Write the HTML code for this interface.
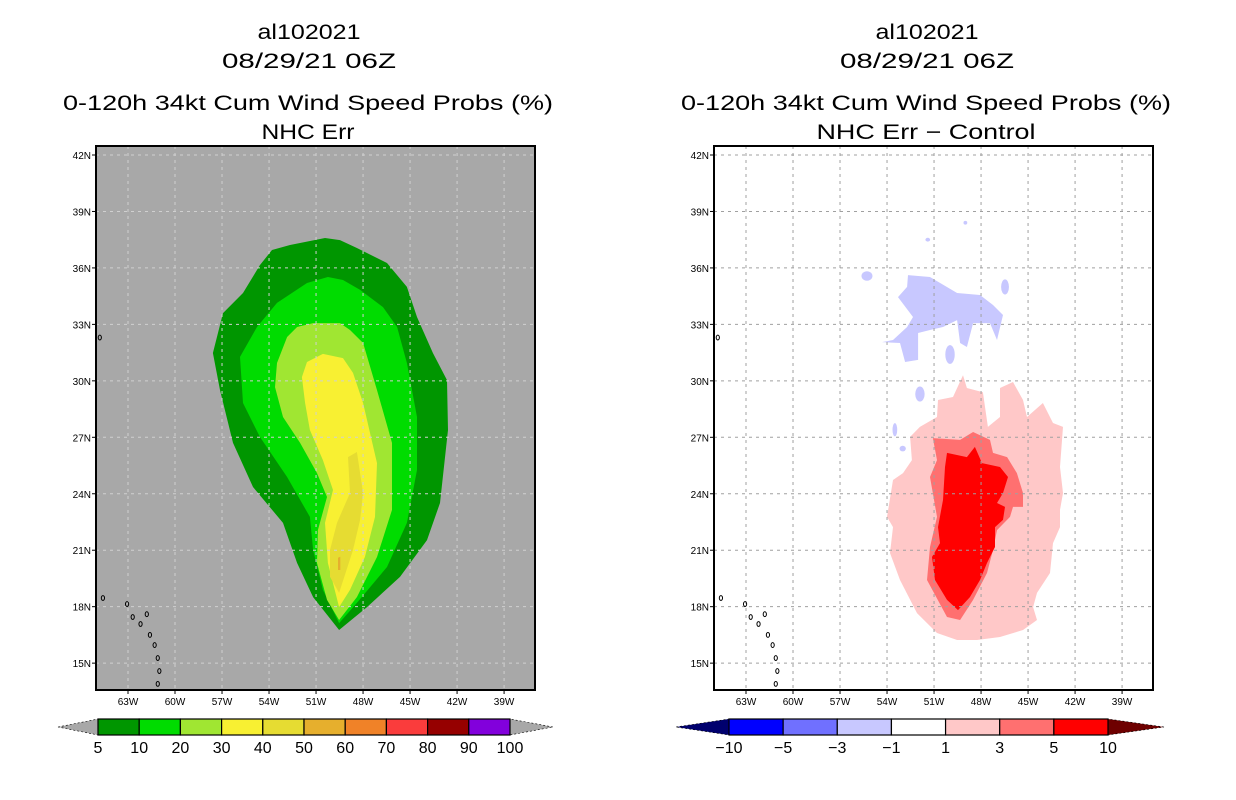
<!DOCTYPE html>
<html><head><meta charset="utf-8"><style>
html,body{margin:0;padding:0;background:#fff;}
svg{display:block;font-family:"Liberation Sans",sans-serif;}
</style></head><body>
<svg id="chart" width="1236" height="800" viewBox="0 0 1236 800" xmlns="http://www.w3.org/2000/svg">
<defs>
<clipPath id="clipL"><rect x="96" y="146" width="439" height="544"/></clipPath>
<clipPath id="clipR"><rect x="714" y="146" width="439" height="544"/></clipPath>
</defs>
<g font-size="21" text-anchor="middle" fill="#000">
<text x="309" y="39" textLength="103" lengthAdjust="spacingAndGlyphs">al102021</text>
<text x="309" y="68" textLength="174" lengthAdjust="spacingAndGlyphs">08/29/21 06Z</text>
<text x="308" y="110" textLength="490" lengthAdjust="spacingAndGlyphs">0-120h 34kt Cum Wind Speed Probs (%)</text>
<text x="308" y="139" textLength="93" lengthAdjust="spacingAndGlyphs">NHC Err</text>
</g>
<g font-size="21" text-anchor="middle" fill="#000">
<text x="927" y="39" textLength="103" lengthAdjust="spacingAndGlyphs">al102021</text>
<text x="927" y="68" textLength="174" lengthAdjust="spacingAndGlyphs">08/29/21 06Z</text>
<text x="926" y="110" textLength="490" lengthAdjust="spacingAndGlyphs">0-120h 34kt Cum Wind Speed Probs (%)</text>
<text x="926" y="139" textLength="219" lengthAdjust="spacingAndGlyphs">NHC Err − Control</text>
</g>
<g id="left"></g>
<g id="right"></g>
<g id="cbL"></g>
<g id="cbR"></g>
</svg>
<script>
const latTicks = [42,39,36,33,30,27,24,21,18,15];
const lonTicks = [-63,-60,-57,-54,-51,-48,-45,-42,-39];
const lonLabels = ["63W","60W","57W","54W","51W","48W","45W","42W","39W"];
const latLabels = ["42N","39N","36N","33N","30N","27N","24N","21N","18N","15N"];

// Left panel contours (lon, lat)
const prob5 = [[-50.43,37.59],[-52.66,37.22],[-53.81,36.95],[-54.58,36.15],[-55.66,34.67],[-56.94,33.6],[-57.58,31.48],[-57.13,29.51],[-56.3,26.7],[-55.02,24.36],[-53.11,22.45],[-52.21,20.32],[-51.19,18.51],[-49.53,16.76],[-47.75,17.98],[-45.64,19.58],[-43.92,21.54],[-43.09,23.51],[-42.58,27.39],[-42.64,30.04],[-43.54,31.48],[-44.56,33.39],[-45.2,34.99],[-46.47,36.26],[-48.39,37.06],[-49.47,37.48]];
const prob10 = [[-50.24,35.52],[-51.58,35.2],[-53.49,34.14],[-54.77,32.86],[-55.85,31.27],[-55.66,28.82],[-54.58,27.02],[-52.85,24.89],[-51.39,22.77],[-51.19,21.01],[-50.56,18.89],[-49.53,17.13],[-48.39,18.2],[-46.47,20.11],[-45.2,22.45],[-44.56,25.26],[-44.56,28.08],[-45.2,30.95],[-45.83,32.86],[-46.73,33.92],[-48.19,34.83],[-49.28,35.36]];
const prob20 = [[-51.19,33.07],[-52.21,32.86],[-52.85,32.33],[-53.49,30.95],[-53.62,29.67],[-53.11,28.08],[-52.02,26.7],[-50.94,25.1],[-50.3,23.83],[-50.88,22.07],[-50.94,20.32],[-50.3,18.36],[-49.53,17.29],[-48.39,18.51],[-47.11,20.64],[-46.15,23.14],[-46.15,26.7],[-47.11,29.51],[-48.0,32.01],[-48.83,32.7],[-49.47,33.07]];
const prob30 = [[-50.56,31.43],[-51.58,31.0],[-51.9,30.2],[-51.7,28.82],[-51.39,27.39],[-50.56,25.79],[-49.92,24.2],[-50.43,22.45],[-50.24,20.32],[-49.53,17.98],[-48.83,18.89],[-47.88,20.64],[-47.24,22.77],[-47.11,25.63],[-48.0,28.82],[-48.64,30.42],[-49.28,31.21]];
const prob40 = [[-48.96,25.95],[-48.39,26.22],[-48.0,24.04],[-48.19,22.61],[-48.64,21.01],[-49.53,18.73],[-50.11,19.58],[-50.11,21.01],[-49.66,22.45],[-48.83,24.04]];
const prob50 = [[-49.45,20.65],[-49.6,20.6],[-49.6,19.95],[-49.45,19.95]];

// Right panel contours (lon, lat)
const diffNeg1 = [[-52.66,35.62],[-51.26,35.52],[-49.53,34.67],[-48.07,34.56],[-47.24,34.03],[-46.6,33.5],[-46.98,32.17],[-47.43,33.07],[-48.51,33.07],[-48.9,31.8],[-49.34,32.01],[-49.53,33.23],[-50.43,32.86],[-51.26,32.7],[-52.02,32.54],[-52.02,31.11],[-52.85,31.0],[-53.17,32.01],[-54.32,32.06],[-53.62,32.17],[-52.72,32.86],[-52.34,33.39],[-53.3,34.45],[-52.72,34.99]];
const diffNegSpots = [[-55.28,35.57,0.35,0.25],[-46.47,34.99,0.25,0.4],[-49.98,31.4,0.3,0.5],[-51.9,29.3,0.3,0.4],[-53.5,27.4,0.15,0.35],[-53.0,26.4,0.2,0.15],[-49.0,38.4,0.12,0.1],[-51.4,37.5,0.15,0.1]];
const diffPos1 = [[-49.15,30.3],[-48.9,29.62],[-47.88,29.39],[-47.56,27.55],[-46.79,28.08],[-46.79,29.62],[-45.96,29.94],[-45.32,28.98],[-45.07,28.08],[-44.05,28.82],[-43.41,27.76],[-42.77,27.55],[-42.96,25.42],[-42.77,24.04],[-42.96,23.14],[-42.96,22.23],[-43.41,21.38],[-43.6,19.79],[-44.43,18.73],[-44.68,17.98],[-44.43,17.29],[-45.32,16.76],[-46.79,16.39],[-48.26,16.23],[-49.53,16.23],[-50.81,16.6],[-52.09,17.66],[-53.17,19.42],[-53.81,20.85],[-53.62,22.23],[-54.0,22.77],[-53.62,24.73],[-52.98,25.1],[-52.41,25.79],[-52.53,27.02],[-51.9,27.55],[-50.81,28.08],[-50.75,28.98],[-49.79,29.14]];
const diffPos3 = [[-51.07,26.96],[-49.34,26.86],[-48.51,27.28],[-47.43,26.86],[-47.24,26.17],[-46.34,25.95],[-45.71,25.1],[-45.32,24.04],[-45.32,23.3],[-45.96,23.3],[-46.15,22.77],[-46.98,22.07],[-47.24,21.01],[-47.62,19.79],[-48.51,18.36],[-49.34,17.29],[-50.17,17.45],[-51.45,19.42],[-51.26,21.17],[-50.81,22.77],[-51.26,24.89],[-50.81,25.79]];
const diffPos5 = [[-50.17,26.17],[-48.9,25.95],[-48.39,26.49],[-47.94,25.63],[-46.79,25.42],[-46.28,24.89],[-46.6,24.04],[-46.98,23.51],[-46.47,23.3],[-46.6,22.61],[-47.11,22.23],[-47.11,21.17],[-47.62,20.32],[-48.07,19.42],[-48.71,18.51],[-49.47,17.82],[-50.17,18.36],[-50.94,19.42],[-51.13,20.64],[-50.62,21.38],[-50.75,22.23],[-50.43,23.67],[-50.3,25.42]];

const islands = [[-64.6,18.46],[-63.06,18.14],[-62.7,17.45],[-62.2,17.08],[-61.8,17.6],[-61.6,16.5],[-61.3,15.96],[-61.1,15.27],[-61.0,14.58],[-61.1,13.9],[-64.8,32.3]];

const cbLeftLabels = ["5","10","20","30","40","50","60","70","80","90","100"];
const cbLeftColors = ["#009600","#00dc00","#a0e632","#f8f032","#e6dc32","#e6af2d","#f08228","#fa3c3c","#960000","#8200dc"];
const cbRightLabels = ["−10","−5","−3","−1","1","3","5","10"];
const cbRightColors = ["#0000ff","#7070ff","#c8c8ff","#ffffff","#ffc8c8","#ff7070","#ff0000"];

const NS = "http://www.w3.org/2000/svg";
const X0 = 128, PXLON = 15.67, Y0 = 155, PXLAT = 18.82;
function xs(lon, off){ return off + X0 + (lon + 63) * PXLON; }
function ys(lat){ return Y0 + (42 - lat) * PXLAT; }
function mk(tag, attrs, parent){ const e = document.createElementNS(NS, tag); for (const k in attrs) e.setAttribute(k, attrs[k]); parent.appendChild(e); return e; }
function poly(parent, pts, off, fill, name){
  const d = pts.map(p => xs(p[0],off).toFixed(1)+","+ys(p[1]).toFixed(1)).join(" ");
  const e = mk("polygon", {points:d, fill:fill}, parent);
  
  
}

function panel(gid, off, bg, gridColor, layers, spots, clip){
  const g = document.getElementById(gid);
  const fx = 96 + off;
  const bgR = mk("rect", {x:fx, y:146, width:439, height:544, fill:bg}, g);
  
  
  const cg = mk("g", {"clip-path":"url(#"+clip+")"}, g);
  layers.forEach(l => poly(cg, l[0], off, l[1], l[2]));
  spots.forEach(s => {
    const e = mk("ellipse", {cx:xs(s[0],off), cy:ys(s[1]), rx:s[2]*PXLON, ry:s[3]*PXLAT, fill:"#c8c8ff"}, cg);
    
    
  });
  latTicks.forEach(la => {
    const l = mk("line", {x1:fx, x2:fx+439, y1:ys(la), y2:ys(la), stroke:gridColor, "stroke-width":1, "stroke-dasharray":"3,4"}, cg);
    
    
  });
  lonTicks.forEach(lo => {
    const l = mk("line", {x1:xs(lo,off), x2:xs(lo,off), y1:146, y2:690, stroke:gridColor, "stroke-width":1, "stroke-dasharray":"3,4"}, cg);
    
    
  });
  islands.forEach(p => {
    const e = mk("ellipse", {cx:xs(p[0],off), cy:ys(p[1]), rx:1.6, ry:2.4, fill:"none", stroke:"#000", "stroke-width":1}, cg);
    
    
  });
  const fr = mk("rect", {x:fx, y:146, width:439, height:544, fill:"none", stroke:"#000", "stroke-width":2}, g);
  
  
  latTicks.forEach((la,i) => {
    mk("line", {x1:fx-4, x2:fx, y1:ys(la), y2:ys(la), stroke:"#000"}, g);
    const t = mk("text", {x:fx-5, y:ys(la)+4, "font-size":10, "text-anchor":"end"}, g);
    t.textContent = latLabels[i];
    
    
  });
  lonTicks.forEach((lo,i) => {
    mk("line", {x1:xs(lo,off), x2:xs(lo,off), y1:690, y2:694, stroke:"#000"}, g);
    const t = mk("text", {x:xs(lo,off), y:705, "font-size":10, "text-anchor":"middle"}, g);
    t.textContent = lonLabels[i];
    
    
  });
}

panel("left", 0, "#a8a8a8", "#d0d0d0",
  [[prob5,"#009600","prob-5-10"],[prob10,"#00dc00","prob-10-20"],[prob20,"#a0e632","prob-20-30"],[prob30,"#f8f032","prob-30-40"],[prob40,"#e6dc32","prob-40-50"],[prob50,"#e6af2d","prob-50-60"]],
  [], "clipL");
panel("right", 618, "#ffffff", "#a0a0a0",
  [[diffNeg1,"#c8c8ff","diff-neg-1-3"],[diffPos1,"#ffc8c8","diff-pos-1-3"],[diffPos3,"#ff7070","diff-pos-3-5"],[diffPos5,"#ff0000","diff-pos-5-10"]],
  diffNegSpots, "clipR");

function colorbar(gid, x0, x1, tl, tr, colors, labels, lowC, highC){
  const g = document.getElementById(gid);
  const y0 = 719, y1 = 735, ym = 727;
  const w = (x1 - x0) / colors.length;
  const a = mk("polygon", {points:`${tl},${ym} ${x0},${y0} ${x0},${y1}`, fill:lowC, stroke:"#000", "stroke-width":0.6, "stroke-dasharray":"2,2"}, g);
  
  
  const b = mk("polygon", {points:`${tr},${ym} ${x1},${y0} ${x1},${y1}`, fill:highC, stroke:"#000", "stroke-width":0.6, "stroke-dasharray":"2,2"}, g);
  
  
  colors.forEach((c,i) => {
    const r = mk("rect", {x:x0+i*w, y:y0, width:w, height:y1-y0, fill:c, stroke:"#000", "stroke-width":1.2}, g);
    
    
  });
  labels.forEach((s,i) => {
    const t = mk("text", {x:x0+i*w, y:753, "font-size":16, "text-anchor":"middle"}, g);
    t.textContent = s;
    
    
  });
}
colorbar("cbL", 98, 510, 58, 553, cbLeftColors, cbLeftLabels, "#a8a8a8", "#a8a8a8");
colorbar("cbR", 729, 1108, 676, 1164, cbRightColors, cbRightLabels, "#00006e", "#6e0000");
</script>
</body></html>
